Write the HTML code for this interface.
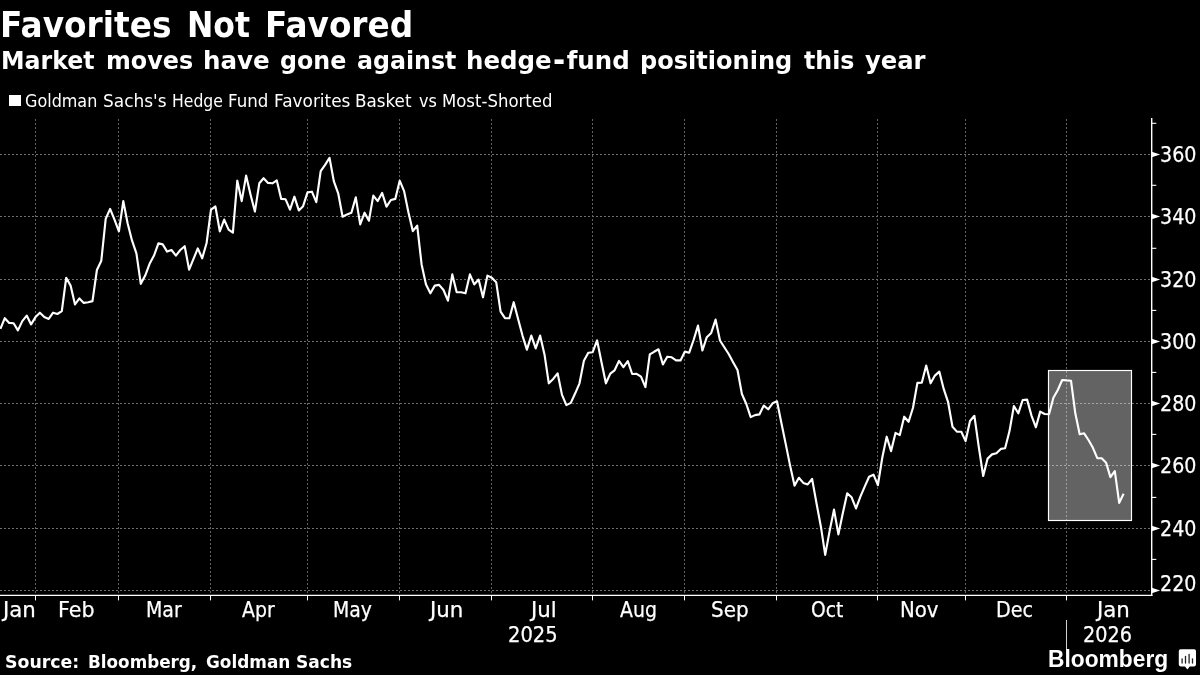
<!DOCTYPE html>
<html lang="en">
<head>
<meta charset="utf-8">
<title>Favorites Not Favored</title>
<style>
html,body{margin:0;padding:0;background:#000;}
body{width:1200px;height:675px;overflow:hidden;position:relative;color:#fff;
 font-family:"DejaVu Sans","Liberation Sans",sans-serif;}
.chart{position:absolute;left:0;top:0;}
h1,h2,p{margin:0;padding:0;}
.w{position:absolute;top:0;white-space:nowrap;transform-origin:0 0;line-height:1;}
.title{position:absolute;left:0;top:8px;width:1200px;height:35px;font-size:35px;line-height:1;font-weight:bold;white-space:nowrap;}
.sub{position:absolute;left:0;top:48px;width:1200px;height:25px;font-size:25px;line-height:1;font-weight:bold;white-space:nowrap;}
.sub .hy{display:inline-block;transform:translateY(-1px) scale(1.2,1.3);margin:0 2.5px;}
.legend{position:absolute;left:0;top:93px;width:1200px;height:17px;white-space:nowrap;font-size:17px;line-height:1;}
.legend .sw{position:absolute;left:9.2px;top:1.5px;width:11.6px;height:11.6px;background:#fff;}
.al{position:absolute;font-size:22px;line-height:1;white-space:nowrap;transform-origin:0 0;-webkit-text-stroke:0.25px #fff;}
.src{position:absolute;left:0;top:653.5px;width:1200px;height:17px;font-size:17.3px;line-height:1;font-weight:bold;white-space:nowrap;}
.bb{position:absolute;left:1047.6px;top:644.6px;font-family:"Liberation Sans","DejaVu Sans",sans-serif;font-weight:bold;
 font-size:24.4px;line-height:28px;white-space:nowrap;transform-origin:0 0;transform:scaleX(0.934);}
.ico{position:absolute;left:1176px;top:647px;}
</style>
</head>
<body>
<svg class="chart" width="1200" height="675" viewBox="0 0 1200 675"><g stroke-width="1" stroke-dasharray="2 2" fill="none" shape-rendering="crispEdges"><line x1="0" y1="154.5" x2="1150.7" y2="154.5" stroke="#707070"/><line x1="0" y1="216.5" x2="1150.7" y2="216.5" stroke="#707070"/><line x1="0" y1="279.5" x2="1150.7" y2="279.5" stroke="#707070"/><line x1="0" y1="341.5" x2="1150.7" y2="341.5" stroke="#707070"/><line x1="0" y1="403.5" x2="1150.7" y2="403.5" stroke="#707070"/><line x1="0" y1="465.5" x2="1150.7" y2="465.5" stroke="#707070"/><line x1="0" y1="528.5" x2="1150.7" y2="528.5" stroke="#707070"/><line x1="0" y1="590.5" x2="1150.7" y2="590.5" stroke="#707070"/><line x1="35.5" y1="119.0" x2="35.5" y2="595.4" stroke="#636363"/><line x1="118.5" y1="119.0" x2="118.5" y2="595.4" stroke="#636363"/><line x1="210.5" y1="119.0" x2="210.5" y2="595.4" stroke="#636363"/><line x1="307.5" y1="119.0" x2="307.5" y2="595.4" stroke="#636363"/><line x1="399.5" y1="119.0" x2="399.5" y2="595.4" stroke="#636363"/><line x1="491.5" y1="119.0" x2="491.5" y2="595.4" stroke="#636363"/><line x1="592.5" y1="119.0" x2="592.5" y2="595.4" stroke="#636363"/><line x1="684.5" y1="119.0" x2="684.5" y2="595.4" stroke="#636363"/><line x1="776.5" y1="119.0" x2="776.5" y2="595.4" stroke="#636363"/><line x1="877.5" y1="119.0" x2="877.5" y2="595.4" stroke="#636363"/><line x1="965.5" y1="119.0" x2="965.5" y2="595.4" stroke="#636363"/><line x1="1066.5" y1="119.0" x2="1066.5" y2="595.4" stroke="#636363"/></g><rect x="1048.5" y="370.5" width="83" height="150" fill="#ffffff" fill-opacity="0.39" stroke="none"/><rect x="1048.5" y="370.5" width="83" height="150" fill="none" stroke="#ffffff" stroke-width="1.15"/><g stroke="#ffffff" fill="none"><line x1="0" y1="595.4" x2="1152.40" y2="595.4" stroke-width="1.2"/><line x1="1151.7" y1="118.0" x2="1151.7" y2="596.00" stroke-width="1.4"/></g><g stroke="#ffffff" stroke-width="1" fill="none"><line x1="35.5" y1="595.4" x2="35.5" y2="600.4"/><line x1="118.5" y1="595.4" x2="118.5" y2="600.4"/><line x1="210.5" y1="595.4" x2="210.5" y2="600.4"/><line x1="307.5" y1="595.4" x2="307.5" y2="600.4"/><line x1="399.5" y1="595.4" x2="399.5" y2="600.4"/><line x1="491.5" y1="595.4" x2="491.5" y2="600.4"/><line x1="592.5" y1="595.4" x2="592.5" y2="600.4"/><line x1="684.5" y1="595.4" x2="684.5" y2="600.4"/><line x1="776.5" y1="595.4" x2="776.5" y2="600.4"/><line x1="877.5" y1="595.4" x2="877.5" y2="600.4"/><line x1="965.5" y1="595.4" x2="965.5" y2="600.4"/><line x1="1066.5" y1="595.4" x2="1066.5" y2="600.4"/></g><line x1="1066.5" y1="620" x2="1066.5" y2="649.5" stroke="#d0d0d0" stroke-width="1"/><path d="M1151.7,151.8 L1160.2,154.5 L1151.7,157.2 Z" fill="#ffffff"/><line x1="1151.7" y1="123.3" x2="1156.3" y2="123.3" stroke="#ffffff" stroke-width="1.1"/><path d="M1151.7,213.8 L1160.2,216.5 L1151.7,219.2 Z" fill="#ffffff"/><line x1="1151.7" y1="185.3" x2="1156.3" y2="185.3" stroke="#ffffff" stroke-width="1.1"/><path d="M1151.7,276.8 L1160.2,279.5 L1151.7,282.2 Z" fill="#ffffff"/><line x1="1151.7" y1="248.3" x2="1156.3" y2="248.3" stroke="#ffffff" stroke-width="1.1"/><path d="M1151.7,338.8 L1160.2,341.5 L1151.7,344.2 Z" fill="#ffffff"/><line x1="1151.7" y1="310.4" x2="1156.3" y2="310.4" stroke="#ffffff" stroke-width="1.1"/><path d="M1151.7,400.8 L1160.2,403.5 L1151.7,406.2 Z" fill="#ffffff"/><line x1="1151.7" y1="372.4" x2="1156.3" y2="372.4" stroke="#ffffff" stroke-width="1.1"/><path d="M1151.7,462.8 L1160.2,465.5 L1151.7,468.2 Z" fill="#ffffff"/><line x1="1151.7" y1="434.4" x2="1156.3" y2="434.4" stroke="#ffffff" stroke-width="1.1"/><path d="M1151.7,525.8 L1160.2,528.5 L1151.7,531.2 Z" fill="#ffffff"/><line x1="1151.7" y1="497.4" x2="1156.3" y2="497.4" stroke="#ffffff" stroke-width="1.1"/><path d="M1151.7,587.8 L1160.2,590.5 L1151.7,593.2 Z" fill="#ffffff"/><line x1="1151.7" y1="559.4" x2="1156.3" y2="559.4" stroke="#ffffff" stroke-width="1.1"/><polyline points="0.4,328.9 4.8,318.2 9.2,322.9 13.6,323.3 17.9,330.4 22.3,321.1 26.7,315.6 31.1,324.4 35.5,317.1 39.9,312.7 44.3,317.1 48.7,318.9 53.1,312.7 57.4,314.0 61.8,311.1 66.2,277.8 70.6,285.6 75.0,304.4 79.4,298.4 83.8,302.9 88.2,302.2 92.5,301.1 96.9,270.0 101.3,260.7 105.7,218.9 110.1,208.9 114.5,219.6 118.9,231.3 123.3,201.1 127.6,223.3 132.0,240.4 136.4,253.3 140.8,283.8 145.2,275.6 149.6,263.8 154.0,255.6 158.4,243.3 162.7,244.4 167.1,251.6 171.5,250.0 175.9,255.6 180.3,250.0 184.7,246.2 189.1,269.6 193.5,258.9 197.8,248.4 202.2,258.3 206.6,243.0 211.0,209.6 215.4,206.5 219.8,231.3 224.2,219.6 228.6,229.6 232.9,232.7 237.3,180.7 241.7,201.1 246.1,175.6 250.5,194.4 254.9,211.6 259.3,183.3 263.6,178.2 268.0,182.9 272.4,183.3 276.8,180.4 281.2,198.9 285.6,199.3 290.0,209.6 294.4,196.7 298.8,210.4 303.1,206.2 307.5,192.4 311.9,191.7 316.3,202.2 320.7,171.1 325.1,164.9 329.5,157.8 333.8,181.1 338.2,193.3 342.6,216.7 347.0,214.4 351.4,212.7 355.8,197.3 360.2,224.4 364.6,212.7 368.9,220.7 373.3,195.6 377.7,201.1 382.1,192.9 386.5,206.7 390.9,200.0 395.3,198.9 399.7,180.7 404.1,191.1 408.4,212.2 412.8,231.1 417.2,225.6 421.6,264.4 426.0,284.4 430.4,293.3 434.8,285.6 439.1,284.9 443.5,290.0 447.9,300.7 452.3,274.4 456.7,292.2 461.1,292.2 465.5,293.3 469.9,274.4 474.2,284.4 478.6,279.6 483.0,297.3 487.4,275.6 491.8,277.8 496.2,282.2 500.6,311.7 505.0,318.2 509.4,318.3 513.7,302.2 518.1,318.9 522.5,335.6 526.9,349.6 531.3,335.6 535.7,348.4 540.1,335.6 544.5,354.4 548.8,383.3 553.2,378.9 557.6,373.3 562.0,394.9 566.4,405.1 570.8,402.9 575.2,393.3 579.5,383.3 583.9,360.7 588.3,352.7 592.7,352.2 597.1,340.4 601.5,362.2 605.9,383.3 610.3,373.6 614.6,370.3 619.0,360.9 623.4,367.1 627.8,361.1 632.2,374.0 636.6,373.8 641.0,376.7 645.4,387.1 649.8,354.4 654.1,351.8 658.5,349.3 662.9,364.4 667.3,356.7 671.7,357.3 676.1,360.4 680.5,360.4 684.9,351.6 689.2,352.7 693.6,340.0 698.0,325.6 702.4,350.5 706.8,337.2 711.2,332.9 715.6,319.6 720.0,340.5 724.3,347.3 728.7,354.0 733.1,362.2 737.5,370.0 741.9,394.0 746.3,404.0 750.7,417.1 755.0,415.1 759.4,414.4 763.8,405.6 768.2,409.3 772.6,403.3 777.0,401.3 781.4,423.0 785.8,444.4 790.1,465.6 794.5,485.6 798.9,477.8 803.3,482.9 807.7,484.4 812.1,478.9 816.5,503.3 820.9,526.7 825.2,554.9 829.6,531.1 834.0,509.6 838.4,534.4 842.8,513.3 847.2,493.3 851.6,497.3 856.0,508.4 860.4,496.7 864.7,486.7 869.1,476.8 873.5,474.7 877.9,485.2 882.3,457.5 886.7,436.7 891.1,451.1 895.5,432.9 899.8,435.1 904.2,416.7 908.6,421.8 913.0,407.8 917.4,382.9 921.8,382.7 926.2,365.6 930.6,383.3 934.9,375.6 939.3,371.6 943.7,388.9 948.1,402.2 952.5,426.7 956.9,431.6 961.3,431.8 965.6,441.1 970.0,421.0 974.4,415.8 978.8,447.2 983.2,476.0 987.6,458.6 992.0,454.4 996.4,453.3 1000.8,448.9 1005.1,448.2 1009.5,431.1 1013.9,406.0 1018.3,413.3 1022.7,400.0 1027.1,399.6 1031.5,415.6 1035.9,427.3 1040.2,411.6 1044.6,414.0 1049.0,414.2 1053.4,397.8 1057.8,390.0 1062.2,380.0 1066.6,380.4 1071.0,380.7 1075.3,413.3 1079.7,434.2 1084.1,433.3 1088.5,440.0 1092.9,447.8 1097.3,458.2 1101.7,458.2 1106.1,462.7 1110.4,477.1 1114.8,471.1 1119.2,502.9 1123.6,493.8" fill="none" stroke="#ffffff" stroke-width="2.15" stroke-linejoin="round" stroke-linecap="butt"/></svg>
<h1 class="title"><span class="w" style="left:-0.29px;transform:scaleX(0.9378)">Favorites</span> <span class="w" style="left:186.74px;transform:scaleX(0.8994)">Not</span> <span class="w" style="left:264.62px;transform:scaleX(0.9354)">Favored</span></h1>
<h2 class="sub"><span class="w" style="left:0.87px;transform:scaleX(0.9461)">Market</span> <span class="w" style="left:106.03px;transform:scaleX(0.9531)">moves</span> <span class="w" style="left:202.66px;transform:scaleX(0.9828)">have</span> <span class="w" style="left:279.69px;transform:scaleX(0.9482)">gone</span> <span class="w" style="left:356.95px;transform:scaleX(0.9484)">against</span> <span class="w" style="left:465.97px;transform:scaleX(0.9784)">hedge<span class="hy">-</span>fund</span> <span class="w" style="left:639.60px;transform:scaleX(0.9619)">positioning</span> <span class="w" style="left:803.73px;transform:scaleX(0.9490)">this</span> <span class="w" style="left:864.55px;transform:scaleX(0.9701)">year</span></h2>
<div class="legend"><span class="sw"></span><span class="w" style="left:24.76px;transform:scaleX(0.9410)">Goldman</span> <span class="w" style="left:102.66px;transform:scaleX(0.9966)">Sachs's</span> <span class="w" style="left:171.62px;transform:scaleX(0.9217)">Hedge</span> <span class="w" style="left:228.23px;transform:scaleX(0.9796)">Fund</span> <span class="w" style="left:273.70px;transform:scaleX(0.9951)">Favorites</span> <span class="w" style="left:354.92px;transform:scaleX(0.9857)">Basket</span> <span class="w" style="left:418.92px;transform:scaleX(0.9447)">vs</span> <span class="w" style="left:441.74px;transform:scaleX(0.9720)">Most-Shorted</span></div>
<div class="al" style="left:2.90px;top:598.80px;transform:scaleX(0.9700)">Jan</div>
<div class="al" style="left:57.60px;top:598.80px;transform:scaleX(0.9380)">Feb</div>
<div class="al" style="left:145.77px;top:598.80px;transform:scaleX(0.8617)">Mar</div>
<div class="al" style="left:241.73px;top:598.80px;transform:scaleX(0.8597)">Apr</div>
<div class="al" style="left:332.78px;top:598.80px;transform:scaleX(0.8551)">May</div>
<div class="al" style="left:430.35px;top:598.80px;transform:scaleX(0.9700)">Jun</div>
<div class="al" style="left:531.35px;top:598.80px;transform:scaleX(0.9700)">Jul</div>
<div class="al" style="left:619.73px;top:598.80px;transform:scaleX(0.8607)">Aug</div>
<div class="al" style="left:711.09px;top:598.80px;transform:scaleX(0.9071)">Sep</div>
<div class="al" style="left:810.53px;top:598.80px;transform:scaleX(0.8517)">Oct</div>
<div class="al" style="left:900.49px;top:598.80px;transform:scaleX(0.8982)">Nov</div>
<div class="al" style="left:995.74px;top:598.80px;transform:scaleX(0.8732)">Dec</div>
<div class="al" style="left:1096.65px;top:598.80px;transform:scaleX(0.9700)">Jan</div>
<div class="al" style="left:508.43px;top:623.80px;transform:scaleX(0.8865)">2025</div>
<div class="al" style="left:1083.45px;top:623.80px;transform:scaleX(0.8744)">2026</div>
<div class="al" style="left:1160.10px;top:144.15px;transform:scaleX(0.8677)">360</div>
<div class="al" style="left:1160.10px;top:206.15px;transform:scaleX(0.8677)">340</div>
<div class="al" style="left:1160.10px;top:269.15px;transform:scaleX(0.8677)">320</div>
<div class="al" style="left:1160.10px;top:331.15px;transform:scaleX(0.8677)">300</div>
<div class="al" style="left:1160.16px;top:393.15px;transform:scaleX(0.8663)">280</div>
<div class="al" style="left:1160.16px;top:455.15px;transform:scaleX(0.8663)">260</div>
<div class="al" style="left:1160.16px;top:518.15px;transform:scaleX(0.8663)">240</div>
<div class="al" style="left:1160.16px;top:573.20px;transform:scaleX(0.8663)">220</div>
<p class="src"><span class="w" style="left:4.74px;transform:scaleX(1.0038)">Source:</span> <span class="w" style="left:87.51px;transform:scaleX(0.9718)">Bloomberg,</span> <span class="w" style="left:206.17px;transform:scaleX(0.9772)">Goldman</span> <span class="w" style="left:296.26px;transform:scaleX(0.9866)">Sachs</span></p>
<div class="bb">Bloomberg</div>
<svg class="ico" width="24" height="26" viewBox="0 0 24 26">
<path d="M4.6,2.3 H18.2 Q20,2.3 20,4.1 V17.6 Q20,19.4 18.2,19.4 H13.8 L11.4,22.4 L9.0,19.4 H4.6 Q2.8,19.4 2.8,17.6 V4.1 Q2.8,2.3 4.6,2.3 Z" fill="#ffffff"/>
<g stroke="#222222" stroke-width="1.3" stroke-linecap="round">
<line x1="6.1" y1="11.8" x2="6.1" y2="16"/>
<line x1="9.5" y1="9.4" x2="9.5" y2="16"/>
<line x1="13.1" y1="7.4" x2="13.1" y2="16"/>
<line x1="16.5" y1="11.8" x2="16.5" y2="16"/>
</g>
</svg>
</body>
</html>
